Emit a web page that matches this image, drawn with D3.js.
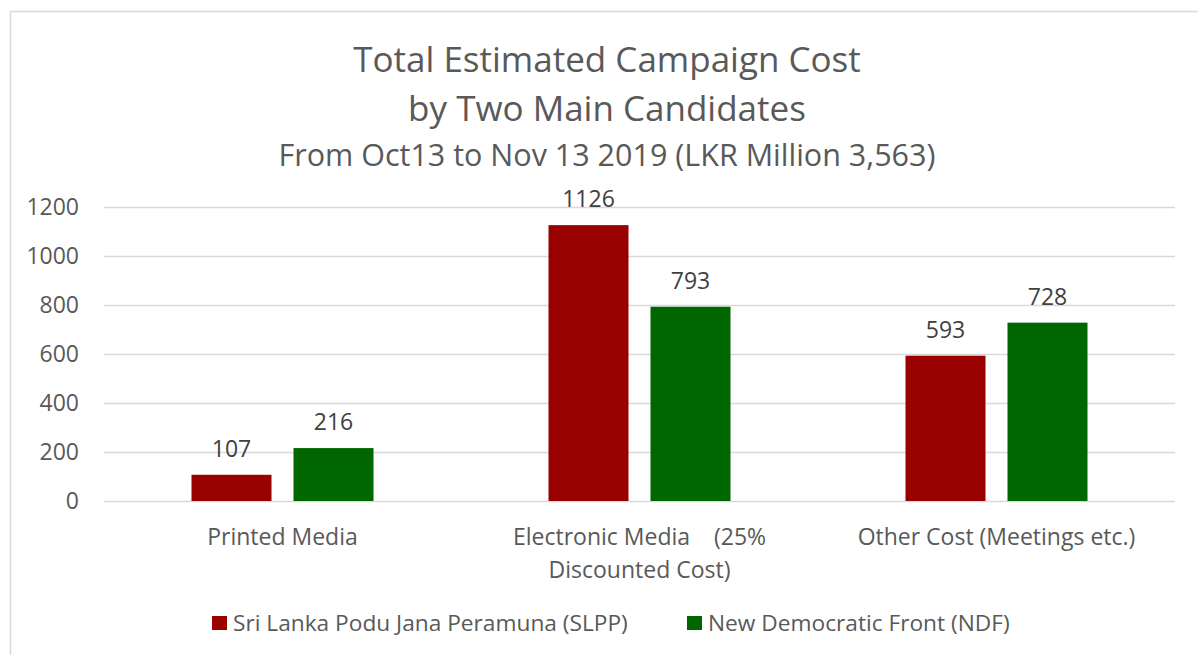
<!DOCTYPE html>
<html>
<head>
<meta charset="utf-8">
<script src="https://cdn.jsdelivr.net/npm/d3@7"></script>
<style>
  body { margin: 0; background: #fff; }
  text { font-family: "Open Sans", "Noto Sans", sans-serif; }
</style>
</head>
<body>
<svg id="chart"></svg>
<script>
const categories = [
  ["Printed Media"],
  ["Electronic Media    (25%", "Discounted Cost)"],
  ["Other Cost (Meetings etc.)"]
];
const seriesNames = ["Sri Lanka Podu Jana Peramuna (SLPP)", "New Democratic Front (NDF)"];
const slppValues = [107, 1126, 593];
const ndfValues = [216, 793, 728];
const yTicks = [0, 200, 400, 600, 800, 1000, 1200];
const colors = ["#990000", "#006600"];

const width = 1198;
const height = 655;
const plotLeft = 104;
const plotRight = 1175;
const plotTop = 207;
const plotBottom = 501;

const svg = d3.select("#chart").attr("width", width).attr("height", height);

// Chart area border
svg.append("rect")
  .attr("x", 10.5)
  .attr("y", 11.5)
  .attr("width", 1200)
  .attr("height", 700)
  .attr("fill", "#fff")
  .attr("stroke", "#d9d9d9")
  .attr("stroke-width", 1.5);

// Titles
const titleLines = ["Total Estimated Campaign Cost", "by Two Main Candidates"];
svg.selectAll(".title")
  .data(titleLines)
  .enter()
  .append("text")
  .attr("class", "title")
  .attr("x", 607)
  .attr("y", (d, i) => 72 + i * 49)
  .attr("text-anchor", "middle")
  .style("font-size", "35px")
  .style("fill", "#595959")
  .text((d) => d);

svg.append("text")
  .attr("x", 607)
  .attr("y", 166)
  .attr("text-anchor", "middle")
  .style("font-size", "30.5px")
  .style("fill", "#595959")
  .text("From Oct13 to Nov 13 2019 (LKR Million 3,563)");

// Scales
const y = d3.scaleLinear().domain([0, 1200]).range([plotBottom, plotTop]);
const x0 = d3.scaleBand().domain(d3.range(categories.length)).range([plotLeft, plotRight]);
const barWidth = 80;
const barGap = 22;

// Gridlines
svg.append("g")
  .selectAll("line")
  .data(yTicks)
  .enter()
  .append("line")
  .attr("x1", plotLeft)
  .attr("x2", plotRight)
  .attr("y1", (d) => Math.round(y(d)) + 0.5)
  .attr("y2", (d) => Math.round(y(d)) + 0.5)
  .attr("stroke", "#d9d9d9")
  .attr("stroke-width", 1.5);

// Y axis labels
svg.append("g")
  .selectAll("text")
  .data(yTicks)
  .enter()
  .append("text")
  .attr("x", 79)
  .attr("y", (d) => y(d))
  .attr("dy", "0.35em")
  .attr("text-anchor", "end")
  .style("font-size", "23px")
  .style("fill", "#595959")
  .text((d) => d);

// Bars
const series = [slppValues, ndfValues];
series.forEach((values, s) => {
  const xPos = (i) =>
    x0(i) + x0.bandwidth() / 2 - barWidth - barGap / 2 + s * (barWidth + barGap);

  svg.append("g")
    .selectAll("rect")
    .data(values)
    .enter()
    .append("rect")
    .attr("x", (d, i) => xPos(i))
    .attr("y", (d) => y(d))
    .attr("width", barWidth)
    .attr("height", (d) => y(0) - y(d))
    .attr("fill", colors[s]);

  svg.append("g")
    .selectAll("text")
    .data(values)
    .enter()
    .append("text")
    .attr("x", (d, i) => xPos(i) + barWidth / 2)
    .attr("y", (d) => y(d) - 18)
    .attr("text-anchor", "middle")
    .style("font-size", "23px")
    .style("fill", "#404040")
    .text((d) => d);
});

// Category labels
const catText = svg.append("g")
  .selectAll("text")
  .data(categories)
  .enter()
  .append("text")
  .attr("x", (d, i) => x0(i) + x0.bandwidth() / 2)
  .attr("y", 545)
  .attr("text-anchor", "middle")
  .style("font-size", "23px")
  .style("fill", "#595959")
  .style("white-space", "pre");

catText.selectAll("tspan")
  .data((d) => d)
  .enter()
  .append("tspan")
  .attr("x", function () { return d3.select(this.parentNode).attr("x"); })
  .attr("dy", (d, i) => (i === 0 ? 0 : 33))
  .text((d) => d);

// Legend
const legendItems = [
  { name: seriesNames[0], color: colors[0], x: 212 },
  { name: seriesNames[1], color: colors[1], x: 687 }
];
const legend = svg.append("g")
  .selectAll("g")
  .data(legendItems)
  .enter()
  .append("g")
  .attr("transform", (d) => `translate(${d.x},623)`);

legend.append("rect")
  .attr("x", 0)
  .attr("y", -7)
  .attr("width", 15)
  .attr("height", 14)
  .attr("fill", (d) => d.color);

legend.append("text")
  .attr("x", 21)
  .attr("y", 0)
  .attr("dy", "0.35em")
  .style("font-size", "22.7px")
  .style("fill", "#595959")
  .text((d) => d.name);
</script>
</body>
</html>
